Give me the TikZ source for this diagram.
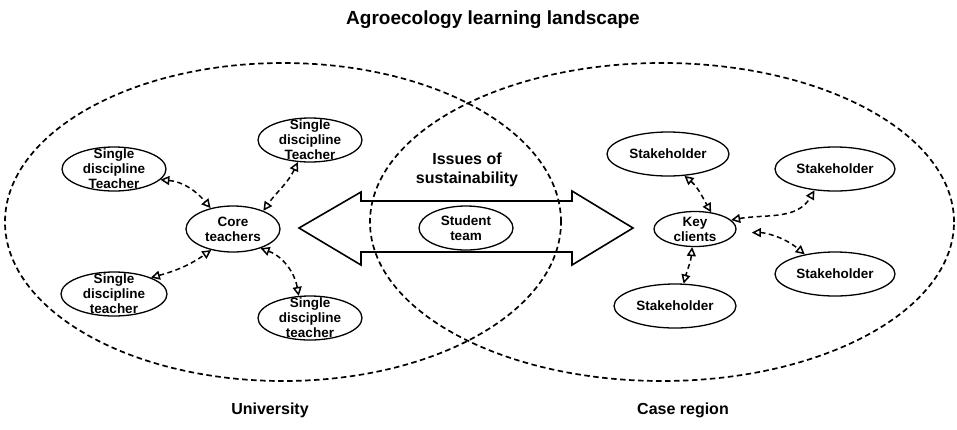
\documentclass[tikz,border=0pt]{standalone}
\usepackage{fontspec}
\setmainfont{Liberation Sans}
\usetikzlibrary{shapes.geometric,arrows.meta}

\tikzset{
  region/.style={ellipse, draw, line width=1.7pt, dash pattern=on 5.5pt off 3.5pt, inner sep=0pt},
  pill/.style 2 args={ellipse, draw, line width=1.3pt, inner sep=0pt,
    minimum width=#1, minimum height=#2},
  lbl/.style={align=center, inner sep=0pt,
    font=\fontsize{13.5}{15}\selectfont\bfseries},
  heading/.style={inner sep=0pt, font=\fontsize{19}{22}\selectfont\bfseries},
  caption/.style={inner sep=0pt, font=\fontsize{16}{19}\selectfont\bfseries},
  link/.style={draw, line width=1.5pt, dash pattern=on 5pt off 3.5pt,
    {Triangle[open,length=9pt,width=9pt]}-{Triangle[open,length=9pt,width=9pt]}},
}

\begin{document}
\begin{tikzpicture}[x=1pt,y=1pt]
\useasboundingbox (0,0) rectangle (957,-429);

% the two overlapping regions
\node[region, minimum width=556, minimum height=318] (uni) at (283,-222) {};
\node[region, minimum width=584, minimum height=318] (case) at (662,-222) {};

% headings
\node[heading] (title) at (493,-20) {Agroecology learning landscape};
\node[caption] (unilabel) at (270,-410) {University};
\node[caption] (caselabel) at (683,-410) {Case region};

% university side
\node[pill={94}{46}, label={[lbl]center:{Core\\teachers}}] (core) at (233,-229) {};
\node[pill={104}{44}, label={[lbl]center:{Single\\discipline\\Teacher}}] (tl) at (114,-169) {};
\node[pill={104}{44}, label={[lbl]center:{Single\\discipline\\Teacher}}] (tr) at (310,-140) {};
\node[pill={106}{44}, label={[lbl]center:{Single\\discipline\\teacher}}] (bl) at (114,-294) {};
\node[pill={104}{44}, label={[lbl]center:{Single\\discipline\\teacher}}] (br) at (310,-318) {};

\draw[link] (tl.-13) to[out=-5,in=130] (core.137);
\draw[link] (tr.241) to[out=245,in=55] (core.31);
\draw[link] (bl.24) to[out=15,in=215] (core.224);
\draw[link] (core.-35) to[out=-20,in=100] (br.117);

% overlap: student team between the two sides
\node[lbl, font=\fontsize{16}{19}\selectfont\bfseries] (issues) at (467,-169.5) {Issues of\\sustainability};
\draw[line width=1.6pt, line join=miter]
  (299,-228) -- (361,-192) -- (361,-201) -- (572,-201) -- (572,-191)
  -- (633,-228) -- (572,-265) -- (572,-252) -- (361,-252) -- (361,-265) -- cycle;
\node[pill={94}{44}, label={[lbl]center:{Student\\team}}] (team) at (466,-228) {};

% case region side
\node[pill={82}{35}, label={[lbl]center:{Key\\clients}}] (key) at (695,-229) {};
\node[pill={122}{44}, label={[lbl]center:{Stakeholder}}] (s1) at (668,-154) {};
\node[pill={120}{44}, label={[lbl]center:{Stakeholder}}] (s2) at (835,-169) {};
\node[pill={120}{44}, label={[lbl]center:{Stakeholder}}] (s3) at (835,-274) {};
\node[pill={122}{44}, label={[lbl]center:{Stakeholder}}] (s4) at (675,-306) {};

\draw[link] (s1.-53) to[out=-40,in=120] (key.46);
\draw[link] (key.14) to[out=10,in=240] (s2.226);
\draw[link, shorten <=16pt] (key.-5) to[out=0,in=140] (s3.147);
\draw[link] (key.261) to[out=265,in=75] (s4.69);
\end{tikzpicture}
\end{document}
